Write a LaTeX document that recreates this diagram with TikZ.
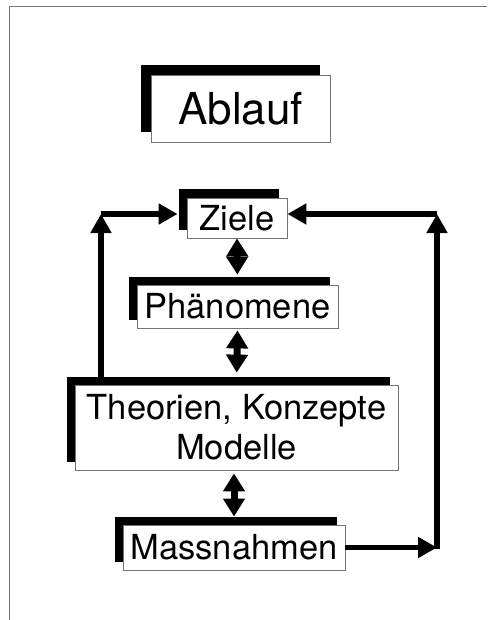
\documentclass[tikz,border=0pt]{standalone}
\usepackage{fontspec}
\setmainfont{TeX Gyre Heros}
\usetikzlibrary{arrows.meta,shadows}

\begin{document}
\begin{tikzpicture}[x=1pt,y=-1pt,
		kasten/.style={draw=black!55,line width=0.8pt,fill=white,inner sep=0pt,
			general shadow={fill=black,shadow xshift=-#1,shadow yshift=#1},
			font=\fontsize{34.5}{40}\selectfont},
		kasten/.default=8.5pt,
		feedback/.style={line width=5.5pt,-{Triangle[length=19pt,width=20pt]}},
		dbl/.style={line width=7pt,{Triangle[length=18pt,width=21pt]}-{Triangle[length=18pt,width=21pt]}}]
	\useasboundingbox (0,0) rectangle (487,620);
	\draw[black!55,line width=1pt] (487,7) -- (9,7) -- (9,620);
	\node[kasten=10pt,minimum width=179pt,minimum height=67pt,font=\fontsize{44}{50}\selectfont] (ablauf) at (240.5,108.5) {Ablauf};
	\node[kasten,minimum width=100pt,minimum height=40pt] (ziele) at (237,218) {Ziele};
	\node[kasten,minimum width=201pt,minimum height=43pt] (phaen) at (237.5,306.5) {Phänomene};
	\node[kasten,minimum width=323pt,minimum height=85pt,align=center] (theorie) at (236.5,427.5) {Theorien, Konzepte\\Modelle};
	\node[kasten,minimum width=222pt,minimum height=45pt] (mass) at (234,547.5) {Massnahmen};
	\coordinate (lt) at (101,214);
	\coordinate (rt) at (437,214);
	\coordinate (rb) at (437,549);
	\draw[dbl,shorten >=10pt] (ziele.south) -- (phaen.north);
	\draw[dbl,shorten <=2pt,shorten >=12pt] (phaen.south) -- (theorie.north);
	\draw[dbl,shorten <=3pt,shorten >=8pt] (mass.north |- theorie.south) -- (mass.north);
	\draw[feedback] (theorie.north -| lt) -- (lt);
	\draw[feedback,shorten >=9pt] (lt) -- (lt -| ziele.west);
	\draw[feedback] (rb) -- (rt);
	\draw[feedback] (rt) -- (rt -| ziele.east);
	\draw[feedback] (mass.east) -- (mass.east -| rb);
\end{tikzpicture}
\end{document}
